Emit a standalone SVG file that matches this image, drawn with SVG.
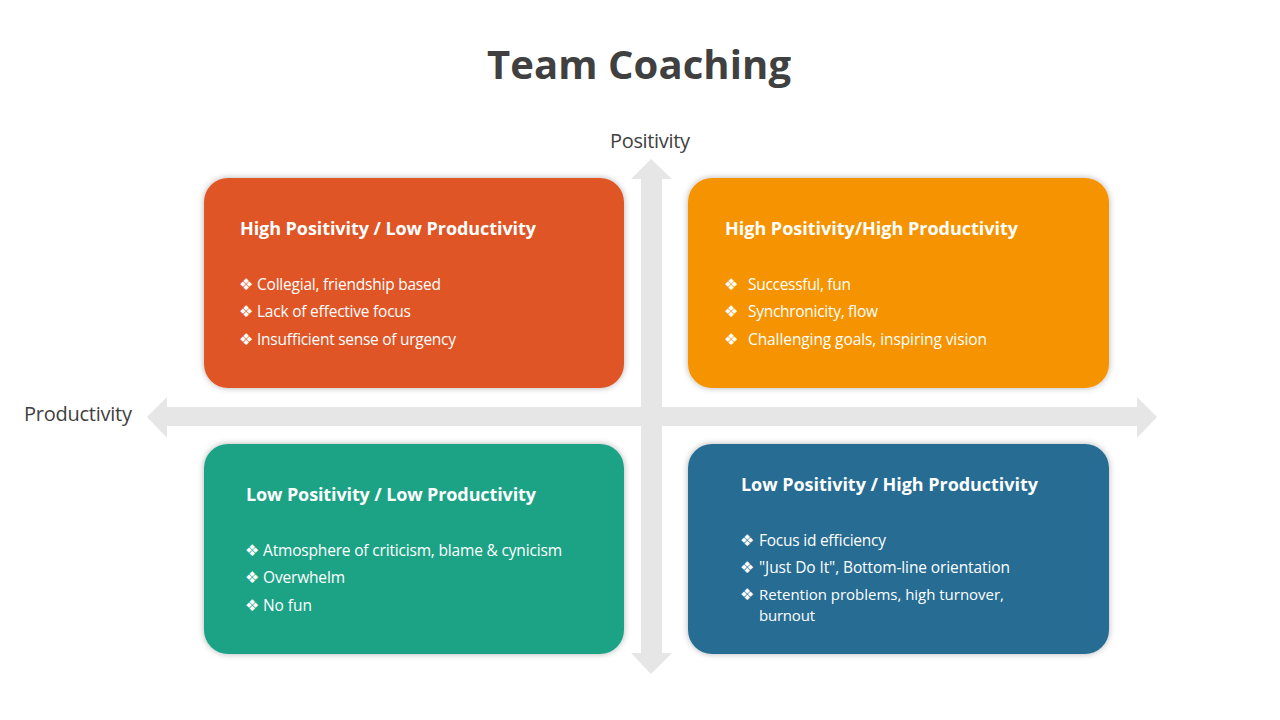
<svg xmlns="http://www.w3.org/2000/svg" width="1280" height="720" viewBox="0 0 1280 720">
<defs>
<filter id="sh" x="-10%" y="-10%" width="120%" height="120%">
<feDropShadow dx="0" dy="0" stdDeviation="3" flood-color="#000" flood-opacity="0.3"/>
</filter>
<style>
text{font-family:"Open Sans","Noto Sans","DejaVu Sans",sans-serif;}
.title{font-size:40px;font-weight:700;fill:#404040;}
.axis{font-size:20px;fill:#404040;}
.hd{font-size:18px;font-weight:700;fill:#fff;}
.bl{font-size:15.5px;fill:#fff;}
.bu{font-family:"DejaVu Sans",sans-serif;font-size:16px;fill:#fff;}
.arrow{fill:#E6E6E6;}
</style>
</defs>
<rect width="1280" height="720" fill="#fff"/>
<text class="title" x="639" y="79" text-anchor="middle" textLength="304">Team Coaching</text>

<g id="connectors">
<polygon class="arrow" points="651,159 672,179 662,179 662,653 672,653 651,674 631,653 641,653 641,179 631,179"/>
<polygon class="arrow" points="147,417 167,397 167,407 1137,407 1137,397 1157,417 1137,438 1137,426 167,426 167,438"/>
</g>

<text class="axis" x="650" y="148" text-anchor="middle" textLength="80">Positivity</text>
<text class="axis" x="24" y="421" textLength="108">Productivity</text>

<g id="q-high-pos-low-prod">
<rect x="204" y="178" width="420" height="210" rx="24" fill="#E05427" filter="url(#sh)"/>
<text class="hd" x="240" y="235" textLength="296">High Positivity / Low Productivity</text>
<text class="bu" x="239" y="290">❖</text><text class="bl" x="257" y="290" textLength="184">Collegial, friendship based</text>
<text class="bu" x="239" y="317">❖</text><text class="bl" x="257" y="317" textLength="154">Lack of effective focus</text>
<text class="bu" x="239" y="345">❖</text><text class="bl" x="257" y="345" textLength="199">Insufficient sense of urgency</text>
</g>

<g id="q-high-pos-high-prod">
<rect x="688" y="178" width="421" height="210" rx="24" fill="#F59402" filter="url(#sh)"/>
<text class="hd" x="725" y="235" textLength="293">High Positivity/High Productivity</text>
<text class="bu" x="724" y="290">❖</text><text class="bl" x="748" y="290" textLength="103">Successful, fun</text>
<text class="bu" x="724" y="317">❖</text><text class="bl" x="748" y="317" textLength="130">Synchronicity, flow</text>
<text class="bu" x="724" y="345">❖</text><text class="bl" x="748" y="345" textLength="239">Challenging goals, inspiring vision</text>
</g>

<g id="q-low-pos-low-prod">
<rect x="204" y="444" width="420" height="210" rx="24" fill="#1FA386" filter="url(#sh)"/>
<text class="hd" x="246" y="501" textLength="290">Low Positivity / Low Productivity</text>
<text class="bu" x="245" y="556">❖</text><text class="bl" x="263" y="556" textLength="299">Atmosphere of criticism, blame &amp; cynicism</text>
<text class="bu" x="245" y="583">❖</text><text class="bl" x="263" y="583" textLength="82">Overwhelm</text>
<text class="bu" x="245" y="611">❖</text><text class="bl" x="263" y="611" textLength="49">No fun</text>
</g>

<g id="q-low-pos-high-prod">
<rect x="688" y="444" width="421" height="210" rx="24" fill="#276C93" filter="url(#sh)"/>
<text class="hd" x="741" y="491" textLength="297">Low Positivity / High Productivity</text>
<text class="bu" x="740" y="546">❖</text><text class="bl" x="759" y="546" textLength="127">Focus id efficiency</text>
<text class="bu" x="740" y="573">❖</text><text class="bl" x="759" y="573" textLength="251">"Just Do It", Bottom-line orientation</text>
<text class="bu" x="740" y="600">❖</text><text class="bl" x="759" y="600" style="font-size:15px"><tspan textLength="245">Retention problems, high turnover,</tspan><tspan x="759" y="621" textLength="56">burnout</tspan></text>
</g>
</svg>
